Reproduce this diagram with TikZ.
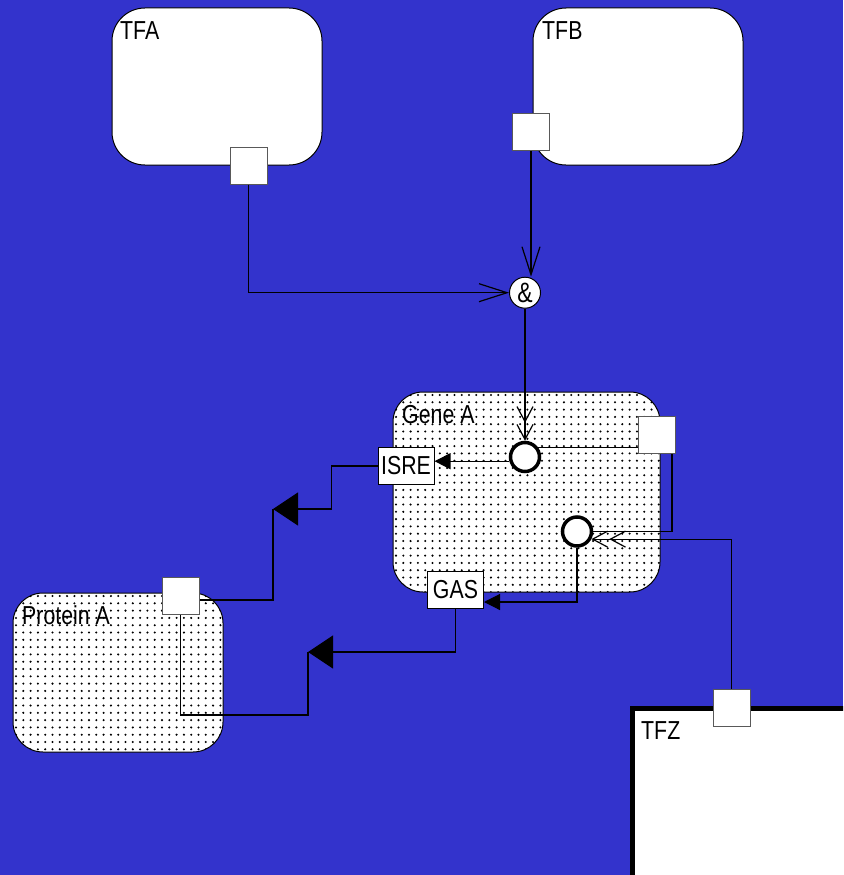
\documentclass[tikz,border=0pt]{standalone}
\usepackage{fontspec}
\setmainfont[FakeStretch=0.82]{Liberation Sans}
\usepackage{tikz}
\usetikzlibrary{arrows.meta}
\definecolor{bgblue}{RGB}{51,51,204}
\tikzset{
    comp/.style={draw, fill=white, rounded corners=33pt, line width=1pt, inner sep=0pt},
    speckled/.style={comp, path picture={
        \foreach \i in {0,...,37} \foreach \j in {0,...,28}
            \fill[black] ([shift={(\i*7.3pt+3pt,-\j*7.3pt-3pt)}]path picture bounding box.north west) circle (1.15pt);
    }}
}
\tikzstyle{port} = [draw=black!65, fill=white, minimum size=37pt, inner sep=0pt, line width=1pt]
\tikzstyle{site} = [circle, draw, fill=white, line width=3.5pt, minimum size=29pt, inner sep=0pt]
\tikzstyle{andgate} = [circle, draw, fill=white, line width=1pt, minimum size=31pt, inner sep=0pt, font=\fontsize{28}{30}\selectfont]
\tikzstyle{elem} = [draw, fill=white, line width=1pt, inner sep=0pt, minimum width=56pt, minimum height=37pt]
\tikzstyle{lbl} = [anchor=base west, inner sep=0pt]
\tikzstyle{wire} = [line width=1.2pt]
\tikzstyle{stim} = [wire, -{Straight Barb[length=28pt,width=18pt]}]
\tikzstyle{stimtwo} = [wire, -{Straight Barb[length=15pt,width=16pt,sep=1pt]Straight Barb[length=15pt,width=16pt]}]
\tikzstyle{prod} = [wire, -{Triangle[length=16pt,width=16pt]}]
\tikzstyle{trans} = [wire, -{Triangle[length=25pt,width=33pt]}]
\begin{document}
\begin{tikzpicture}[x=1pt, y=-1pt, font=\fontsize{26}{30}\selectfont]
    \useasboundingbox (0,0) rectangle (843,875);
    \clip (0,0) rectangle (843,875);
    \fill[bgblue] (0,0) rectangle (843,875);

    \node[comp, minimum width=210pt, minimum height=157pt] (tfa) at (217,86.5) {};
    \node[lbl] (tfaL) at (120,40) {TFA};
    \node[comp, minimum width=210pt, minimum height=157pt] (tfb) at (638,86.5) {};
    \node[lbl] (tfbL) at (542,40) {TFB};

    \node[speckled, minimum width=267pt, minimum height=200pt, rounded corners=30pt] (geneA) at (526.5,492) {};
    \node[lbl] (geneL) at (402,423) {Gene A};
    \node[speckled, minimum width=210pt, minimum height=159pt, rounded corners=30pt] (protA) at (118,672.5) {};
    \node[lbl] (protL) at (22,624) {Protein A};

    \node[draw, fill=white, line width=5pt, minimum width=268pt, minimum height=244pt, inner sep=0pt] (tfz) at (766.5,830) {};
    \node[lbl] (tfzL) at (641,739) {TFZ};

    \node[port] (pA) at (248.5,165.5) {};
    \node[port] (pB) at (531,132) {};
    \node[port] (pG) at (657,435) {};
    \node[port] (pP) at (180.5,596) {};
    \node[port] (pZ) at (731.5,707.5) {};

    \node[andgate] (amp) at (525,292.7) {\&};
    \node[site] (c1) at (525,457) {};
    \node[site] (c2) at (577,531.5) {};

    \node[elem] (isre) at (406,466) {ISRE};
    \node[elem] (gas) at (455.5,590) {GAS};

    \coordinate (k1) at (273,509);
    \coordinate (k2) at (308,652);

    \draw[stim] (pA.south) |- (amp.west);
    \draw[stim] (pB.south) -- (pB.south |- amp.north);
    \draw[stimtwo] (amp.south) -- (c1.north);
    \draw[wire] (c1.35) -- (c1.35 -| pG.west);
    \draw[wire] ([xshift=15pt]pG.south) |- (c2.east);
    \draw[stimtwo] (pZ.north) |- (c2.-28);
    \draw[prod] (c1.195) -- (c1.195 -| isre.east);
    \draw[prod] (c2.south) |- ([yshift=-12pt]gas.east);

    \draw[trans] (isre.west) -- ++(-46,0) |- (k1);
    \draw[wire] (k1) |- ([yshift=-4pt]pP.east);
    \draw[trans] (gas.south) |- (k2);
    \draw[wire] (k2) -- ++(0,63) -| (pP.south);
\end{tikzpicture}
\end{document}
